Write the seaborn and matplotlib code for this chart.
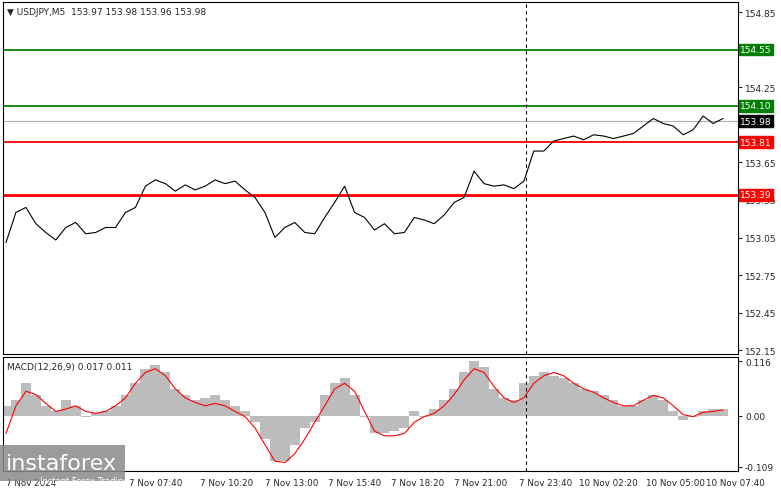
import numpy as np
import pandas as pd
import matplotlib
matplotlib.use('Agg')
import matplotlib.pyplot as plt
import seaborn as sns

# price sampled roughly every 4 bars (M5)
price = [153.01, 153.25, 153.29, 153.16, 153.09, 153.03, 153.13, 153.17, 153.08, 153.09,
         153.13, 153.13, 153.25, 153.29, 153.46, 153.51, 153.48, 153.42, 153.47, 153.43,
         153.46, 153.51, 153.48, 153.50, 153.43, 153.37, 153.25, 153.05, 153.13, 153.17,
         153.09, 153.08, 153.21, 153.33, 153.46, 153.25, 153.21, 153.11, 153.16, 153.08,
         153.09, 153.21, 153.19, 153.16, 153.23, 153.33, 153.37, 153.58, 153.48, 153.46,
         153.47, 153.44, 153.50, 153.74, 153.74, 153.82, 153.84, 153.86, 153.83, 153.87,
         153.86, 153.84, 153.86, 153.88, 153.94, 154.00, 153.96, 153.94, 153.87, 153.91,
         154.02, 153.96, 154.00]
macd_hist = [0.021, 0.033, 0.069, 0.045, 0.021, 0.009, 0.033, 0.021, -0.002, 0.005,
             0.009, 0.021, 0.045, 0.069, 0.100, 0.109, 0.092, 0.057, 0.045, 0.033,
             0.038, 0.045, 0.033, 0.021, 0.009, -0.014, -0.050, -0.097, -0.097, -0.062,
             -0.026, -0.014, 0.045, 0.069, 0.081, 0.045, -0.002, -0.038, -0.038, -0.033,
             -0.026, 0.009, -0.002, 0.014, 0.033, 0.057, 0.092, 0.116, 0.104, 0.057,
             0.038, 0.033, 0.069, 0.085, 0.092, 0.085, 0.081, 0.069, 0.057, 0.052,
             0.045, 0.033, 0.021, 0.021, 0.033, 0.045, 0.033, 0.009, -0.009, -0.002,
             0.009, 0.014, 0.014]
macd_signal = [-0.038, 0.021, 0.052, 0.045, 0.026, 0.009, 0.014, 0.021, 0.009, 0.005,
               0.009, 0.021, 0.038, 0.069, 0.092, 0.100, 0.085, 0.057, 0.038, 0.028,
               0.021, 0.026, 0.021, 0.009, -0.002, -0.026, -0.062, -0.097, -0.100, -0.081,
               -0.050, -0.014, 0.021, 0.057, 0.069, 0.052, 0.009, -0.033, -0.043, -0.043,
               -0.038, -0.014, -0.002, 0.005, 0.021, 0.045, 0.076, 0.100, 0.092, 0.062,
               0.038, 0.028, 0.038, 0.069, 0.085, 0.092, 0.085, 0.069, 0.057, 0.050,
               0.038, 0.028, 0.021, 0.021, 0.033, 0.043, 0.038, 0.021, 0.002, -0.002,
               0.007, 0.009, 0.012]
time_labels = ['7 Nov 2024', '7 Nov 07:40', '7 Nov 10:20', '7 Nov 13:00', '7 Nov 15:40',
               '7 Nov 18:20', '7 Nov 21:00', '7 Nov 23:40', '10 Nov 02:20', '10 Nov 05:00',
               '10 Nov 07:40']
time_pos = [2.5, 15, 22.2, 28.7, 35, 41.3, 47.7, 54.2, 60.5, 67.2, 73.2]
price_ticks = [154.85, 154.25, 153.65, 153.35, 153.05, 152.75, 152.45, 152.15]
levels = [(154.55, '#008000'), (154.10, '#008000'), (153.81, '#ff0000'), (153.39, '#ff0000')]
last_price = 153.98

df = pd.DataFrame({'i': np.arange(len(price)), 'price': price,
                   'hist': macd_hist, 'signal': macd_signal})

sns.set_style('white')
plt.rcParams['font.family'] = ['DejaVu Sans']
fig = plt.figure(figsize=(7.81, 4.89), dpi=100)
W, H = 781, 489
ax = fig.add_axes([3 / W, 1 - 355 / H, 735 / W, 352 / H])
ax2 = fig.add_axes([3 / W, 1 - 472 / H, 735 / W, 114 / H])

xlim = (-0.3, 73.5)
# main panel
ax.axhline(last_price, color='#b0b0b0', lw=0.8)
for lv, c in levels:
    ax.axhline(lv, color=c, lw=2 if lv == 153.39 else 1.3)
sns.lineplot(data=df, x='i', y='price', ax=ax, color='black', lw=0.8)
ax.axvline(52.2, color='black', ls=(0, (3, 3)), lw=0.8)
ax.set_xlim(*xlim)
ax.set_ylim(152.12, 154.93)
ax.yaxis.tick_right()
ax.set_yticks(price_ticks)
ax.set_yticklabels([f'{t:.2f}' for t in price_ticks], fontsize=6.5)
ax.set_xticks([])
ax.set_xlabel('')
ax.set_ylabel('')
ax.tick_params(axis='y', length=3, pad=2)
for lv, c in levels:
    ax.text(1.003, lv, f'{lv:.2f}', transform=ax.get_yaxis_transform(), fontsize=6.5,
            color='white', va='center', ha='left', zorder=5,
            bbox=dict(boxstyle='square,pad=0.15', fc=c, ec=c))
ax.text(1.003, last_price, f'{last_price:.2f}', transform=ax.get_yaxis_transform(), fontsize=6.5,
        color='white', va='center', ha='left',
        bbox=dict(boxstyle='square,pad=0.15', fc='black', ec='black'))
ax.text(0.005, 0.985, '\u25BC USDJPY,M5  153.97 153.98 153.96 153.98', transform=ax.transAxes,
        fontsize=6.5, va='top', ha='left')

# MACD panel
ax2.bar(df['i'], df['hist'], width=1.0, color='#bcbcbc', linewidth=0)
sns.lineplot(data=df, x='i', y='signal', ax=ax2, color='red', lw=0.8)
ax2.axvline(52.2, color='black', ls=(0, (3, 3)), lw=0.8)
ax2.set_xlim(*xlim)
ax2.set_ylim(-0.118, 0.125)
ax2.yaxis.tick_right()
ax2.set_yticks([0.116, 0.0, -0.109])
ax2.set_yticklabels(['0.116', '0.00', '-0.109'], fontsize=6.5)
ax2.set_xticks(time_pos)
ax2.set_xticklabels(time_labels, fontsize=6.3)
ax2.tick_params(axis='y', length=3, pad=2)
ax2.tick_params(axis='x', length=3, pad=2)
ax2.set_xlabel('')
ax2.set_ylabel('')
ax2.text(0.005, 0.96, 'MACD(12,26,9) 0.017 0.011', transform=ax2.transAxes,
         fontsize=6.5, va='top', ha='left')

for a in (ax, ax2):
    for s in a.spines.values():
        s.set_color('black')
        s.set_linewidth(0.8)

# watermark logo
fig.text(6 / W, 1 - 474 / H, 'instaforex', fontsize=16, color='white',
         va='bottom', ha='left', zorder=10,
         bbox=dict(boxstyle='square,pad=0.35', fc='#8a8a8a', ec='none', alpha=0.85))
fig.text(40 / W, 1 - 486 / H, 'Instant Forex Trading', fontsize=6, color='white',
         va='bottom', ha='left', zorder=11)

fig.savefig('out.png', dpi=100)
